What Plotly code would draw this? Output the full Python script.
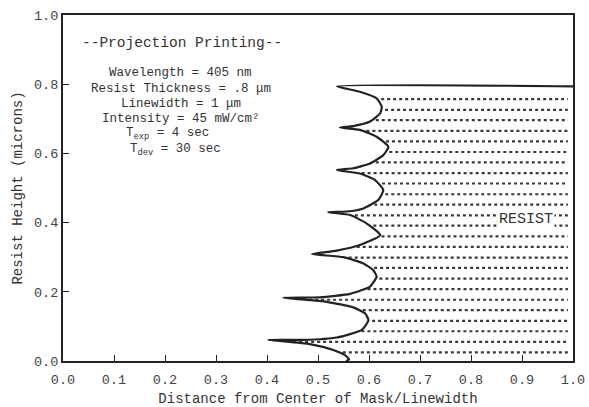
import numpy as np
import plotly.graph_objects as go

# Resist profile edge (top to bottom), x = distance / linewidth, y = height (microns)
profile_x = [1.0, 0.537, 0.582, 0.615, 0.625, 0.622, 0.602, 0.569, 0.543,
             0.582, 0.615, 0.638, 0.628, 0.602, 0.569, 0.537,
             0.582, 0.612, 0.628, 0.618, 0.589, 0.556, 0.520,
             0.563, 0.595, 0.622, 0.582, 0.537, 0.488,
             0.550, 0.589, 0.608, 0.615, 0.602, 0.563, 0.504, 0.432,
             0.517, 0.569, 0.592, 0.599, 0.586, 0.537, 0.471, 0.4025,
             0.484, 0.530, 0.553, 0.561, 0.555]
profile_y = [0.794, 0.794, 0.778, 0.759, 0.735, 0.716, 0.692, 0.679, 0.675,
             0.668, 0.648, 0.619, 0.595, 0.571, 0.557, 0.552,
             0.542, 0.523, 0.494, 0.465, 0.441, 0.432, 0.430,
             0.422, 0.398, 0.364, 0.335, 0.319, 0.309,
             0.300, 0.282, 0.263, 0.244, 0.215, 0.194, 0.184, 0.183,
             0.171, 0.155, 0.138, 0.118, 0.090, 0.068, 0.061, 0.061,
             0.049, 0.032, 0.017, 0.005, 0.000]

# Heights of the dotted fill rows inside the resist
row_heights = [0.025, 0.055, 0.086, 0.116, 0.147, 0.177, 0.208, 0.238, 0.269,
               0.299, 0.330, 0.360, 0.391, 0.421, 0.452, 0.482, 0.513, 0.543,
               0.574, 0.604, 0.635, 0.665, 0.696, 0.726, 0.757]
row_end = 0.99

x_ticks = [0.0, 0.1, 0.2, 0.3, 0.4, 0.5, 0.6, 0.7, 0.8, 0.9, 1.0]
y_ticks = [0.0, 0.2, 0.4, 0.6, 0.8, 1.0]

title_text = "--Projection Printing--"
param_lines = ["Wavelength = 405 nm",
               "Resist Thickness = .8 \u03bcm",
               "Linewidth = 1 \u03bcm",
               "Intensity = 45 mW/cm\u00b2",
               "T<sub>exp</sub> = 4 sec",
               "T<sub>dev</sub> = 30 sec"]
param_y = [0.832, 0.786, 0.743, 0.699, 0.656, 0.611]
param_x = [0.231, 0.231, 0.231, 0.231, 0.205, 0.220]

FONT = "Liberation Mono"
INK = "#333333"

# rows start at the profile edge
py_rev = np.array(profile_y[1:][::-1])
px_rev = np.array(profile_x[1:][::-1])
rx, ry = [], []
for h in row_heights:
    start = float(np.interp(h, py_rev, px_rev)) + 0.008
    rx += [start, row_end, None]
    ry += [h, h, None]

fig = go.Figure()
fig.add_trace(go.Scatter(x=rx, y=ry, mode="lines",
                         line=dict(color="#3a3a3a", width=2.2, dash="3px,3px"),
                         hoverinfo="skip", showlegend=False))
fig.add_trace(go.Scatter(x=profile_x, y=profile_y, mode="lines",
                         line=dict(color="#222222", width=2.2, shape="spline", smoothing=0.5),
                         showlegend=False))

ann = [dict(x=0.234, y=0.918, xref="x", yref="y", text=title_text, showarrow=False,
            font=dict(family=FONT, size=14.5, color=INK))]
for t, xx, yy in zip(param_lines, param_x, param_y):
    ann.append(dict(x=xx, y=yy, xref="x", yref="y", text=t, showarrow=False,
                    font=dict(family=FONT, size=12.5, color=INK)))
ann.append(dict(x=0.908, y=0.408, xref="x", yref="y", text="RESIST", showarrow=False,
                bgcolor="white", borderpad=1,
                font=dict(family=FONT, size=15, color=INK)))

axis_common = dict(showline=True, linecolor="#222222", linewidth=2, mirror=True,
                   ticks="inside", ticklen=6, tickwidth=1.2, tickcolor="#222222",
                   showgrid=False, zeroline=False, automargin=False,
                   tickfont=dict(family=FONT, size=13.5, color="#444444"))

fig.update_layout(
    width=589, height=407, autosize=False,
    margin=dict(l=63, r=16, t=15, b=46),
    paper_bgcolor="white", plot_bgcolor="white",
    annotations=ann,
    xaxis=dict(range=[0, 1], tickvals=x_ticks, tickformat=".1f", ticklabelstandoff=5,
               title=dict(text="Distance from Center of Mask/Linewidth", standoff=8,
                          font=dict(family=FONT, size=14, color="#333333")),
               **axis_common),
    yaxis=dict(range=[0, 1], tickvals=y_ticks, tickformat=".1f",
               title=dict(text="Resist Height (microns)", standoff=8,
                          font=dict(family=FONT, size=14, color="#333333")),
               **axis_common),
)

fig.write_html("out.html",
               config={"displayModeBar": False, "responsive": False},
               post_script="document.body.style.margin='0';document.body.style.overflow='hidden';")
